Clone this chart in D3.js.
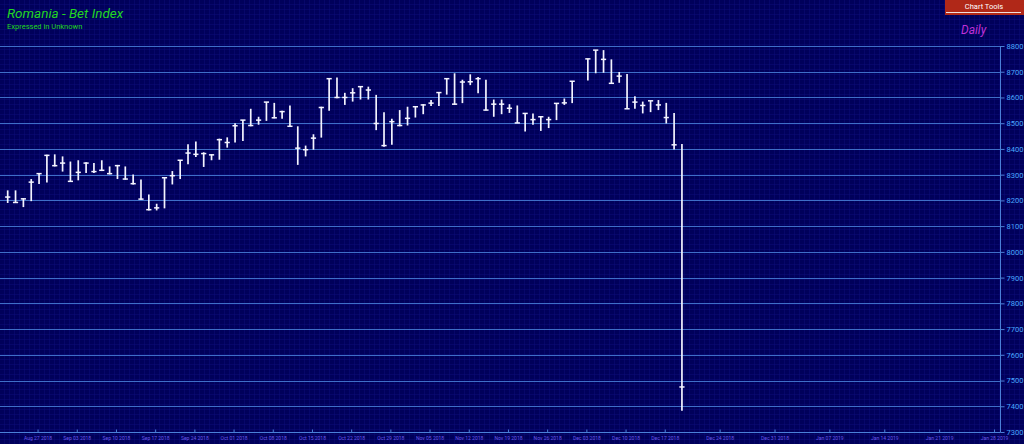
<!DOCTYPE html>
<html><head><meta charset="utf-8">
<script src="https://cdn.jsdelivr.net/npm/d3@7"></script>
<style>html,body{margin:0;padding:0;background:#00005a;overflow:hidden}</style>
</head><body>
<svg id="c" width="1024" height="444"></svg>
<script>
const dates = ["2018-08-21","2018-08-22","2018-08-23","2018-08-24","2018-08-27","2018-08-28","2018-08-29","2018-08-30","2018-08-31",
"2018-09-03","2018-09-04","2018-09-05","2018-09-06","2018-09-07","2018-09-10","2018-09-11","2018-09-12","2018-09-13","2018-09-14",
"2018-09-17","2018-09-18","2018-09-19","2018-09-20","2018-09-21","2018-09-24","2018-09-25","2018-09-26","2018-09-27","2018-09-28",
"2018-10-01","2018-10-02","2018-10-03","2018-10-04","2018-10-05","2018-10-08","2018-10-09","2018-10-10","2018-10-11","2018-10-12",
"2018-10-15","2018-10-16","2018-10-17","2018-10-18","2018-10-19","2018-10-22","2018-10-23","2018-10-24","2018-10-25","2018-10-26",
"2018-10-29","2018-10-30","2018-10-31","2018-11-01","2018-11-02","2018-11-05","2018-11-06","2018-11-07","2018-11-08","2018-11-09",
"2018-11-12","2018-11-13","2018-11-14","2018-11-15","2018-11-16","2018-11-19","2018-11-20","2018-11-21","2018-11-22","2018-11-23",
"2018-11-26","2018-11-27","2018-11-28","2018-11-29","2018-12-03","2018-12-04","2018-12-05","2018-12-06","2018-12-07",
"2018-12-10","2018-12-11","2018-12-12","2018-12-13","2018-12-14","2018-12-17","2018-12-18","2018-12-19"];
const high = [8239,8239,8208,8283,8306,8377,8379,8371,8351,8356,8348,8345,8356,8332,8338,8332,8301,8281,8223,8187,8288,8314,8356,8418,8429,8387,8379,8440,8445,8500,
8512,8556,8525,8582,8579,8548,8569,8488,8413,8457,8564,8673,8678,8618,8636,8644,8642,8610,8543,8517,8551,8564,8566,8574,8590,8621,8675,8694,8669,8690,
8680,8669,8592,8592,8574,8569,8538,8538,8525,8525,8577,8596,8663,8750,8784,8784,8748,8699,8691,8605,8584,8587,8590,8579,8540,8419];
const low = [8190,8190,8174,8197,8264,8270,8332,8312,8273,8278,8306,8306,8314,8301,8283,8281,8262,8203,8161,8161,8169,8262,8283,8340,8369,8330,8356,8358,8405,8425,
8431,8488,8494,8509,8519,8517,8488,8338,8371,8397,8444,8548,8597,8571,8584,8592,8592,8473,8408,8416,8488,8491,8522,8535,8567,8567,8611,8571,8578,8648,
8616,8550,8525,8535,8540,8501,8468,8494,8470,8481,8512,8571,8578,8666,8694,8696,8655,8657,8556,8556,8538,8543,8551,8499,8398,7383];
const close = [8213,8192,8206,8271,8304,8375,8335,8345,8274,8309,8345,8312,8317,8304,8335,8283,8265,8205,8164,8171,8288,8296,8356,8384,8379,8382,8377,8436,8425,8490,
8512,8491,8512,8582,8521,8545,8488,8403,8397,8442,8561,8673,8600,8600,8618,8642,8629,8499,8413,8506,8491,8519,8564,8571,8578,8619,8673,8574,8660,8661,
8673,8551,8574,8574,8558,8501,8538,8514,8525,8514,8577,8579,8663,8750,8784,8748,8655,8683,8556,8582,8569,8587,8571,8522,8416,7475];
const tickDates = ["2018-08-27","2018-09-03","2018-09-10","2018-09-17","2018-09-24","2018-10-01","2018-10-08","2018-10-15","2018-10-22","2018-10-29",
"2018-11-05","2018-11-12","2018-11-19","2018-11-26","2018-12-03","2018-12-10","2018-12-17","2018-12-24","2018-12-31","2019-01-07","2019-01-14","2019-01-21","2019-01-28"];
const yTicks = [7300,7400,7500,7600,7700,7800,7900,8000,8100,8200,8300,8400,8500,8600,8700,8800];

const W = 1024, H = 444;
const svg = d3.select("#c");
const parse = d3.utcParse("%Y-%m-%d");
const fmt = d3.utcFormat("%b %d %Y");
const d0 = parse(dates[0]), dLast = parse(dates[dates.length-1]);
function weekdaySlot(d){
  return d3.utcDay.count(d0, d) - d3.utcSaturday.count(d0, d) - d3.utcSunday.count(d0, d);
}
function slotOf(s){
  const d = parse(s);
  if (d <= dLast) return weekdaySlot(d);
  return weekdaySlot(dLast) + d3.utcDay.count(dLast, d);
}
const x = d3.scaleLinear().domain([0, 100]).range([7.7, 7.7 + 100*7.84]);
const y = d3.scaleLinear().domain([7300, 8800]).range([432, 46]);

// background fine grid
const defs = svg.append("defs");
const pat = defs.append("pattern").attr("id","fg").attr("width",5).attr("height",5).attr("patternUnits","userSpaceOnUse");
pat.append("rect").attr("width",5).attr("height",5).attr("fill","#00005a");
pat.append("path").attr("d","M5 0V5M0 5H5").attr("stroke","#0c0c78").attr("stroke-width",1).attr("fill","none");
svg.append("rect").attr("width",W).attr("height",H).attr("fill","url(#fg)");

// horizontal gridlines
svg.append("g").selectAll("line").data(yTicks.filter(v=>v>7300)).join("line")
  .attr("x1",0).attr("x2",1000).attr("y1",d=>Math.round(y(d))+0.5).attr("y2",d=>Math.round(y(d))+0.5)
  .attr("stroke","#3e6ec8").attr("stroke-width",1.2);

// y axis on right
const yAxis = d3.axisRight(y).tickValues(yTicks).tickSize(4).tickPadding(2).tickFormat(d3.format("d"));
const gy = svg.append("g").attr("transform","translate(1000.5,0)").call(yAxis);
gy.select(".domain").attr("stroke","#4a80d8").attr("d","M0,46V432.5");
gy.selectAll(".tick line").attr("stroke","#4a80d8");
gy.selectAll(".tick text").attr("fill","#4aa8ff").attr("font-family","Roboto, sans-serif").attr("font-size",7.5);

// x axis
const xAxis = d3.axisBottom(x).tickValues(tickDates.map(slotOf)).tickSize(3).tickPadding(1)
  .tickFormat((d,i)=>fmt(parse(tickDates[i])));
const gx = svg.append("g").attr("transform","translate(-1.5,432.5)").call(xAxis);
gx.select(".domain").attr("stroke","#4a80d8").attr("d","M1.5,0H1002");
gx.selectAll(".tick line").attr("stroke","#4a80d8").attr("y2",-3);
gx.selectAll(".tick text").attr("fill","#6a58e8").attr("font-family","Roboto, sans-serif").attr("font-size",5);

// HLC bars
const bars = svg.append("g");
dates.forEach((ds,i)=>{
  const cx = x(slotOf(ds));
  const col = "#f4f4ff";
  bars.append("line").attr("x1",cx).attr("x2",cx).attr("y1",y(high[i])).attr("y2",y(low[i]))
    .attr("stroke",col).attr("stroke-width",1.7);
  bars.append("line").attr("x1",cx-2.6).attr("x2",cx+2.6).attr("y1",y(close[i])).attr("y2",y(close[i]))
    .attr("stroke",col).attr("stroke-width",1.5);
});

// titles
svg.append("text").attr("x",7).attr("y",18).attr("fill","#22d622").attr("font-family","Roboto, sans-serif")
  .attr("font-style","italic").attr("font-size",13.5).text("Romania - Bet Index");
svg.append("text").attr("x",7).attr("y",29).attr("fill","#22d622").attr("font-family","Roboto, sans-serif")
  .attr("font-size",7.5).text("Expressed in Unknown");
svg.append("text").attr("x",961).attr("y",34).attr("fill","#c030d8").attr("font-family","Roboto, sans-serif")
  .attr("font-style","italic").attr("font-size",12).text("Daily");

// Chart Tools button
svg.append("rect").attr("x",945).attr("y",0).attr("width",79).attr("height",15).attr("fill","#b02818");
svg.append("line").attr("x1",946).attr("x2",1021).attr("y1",12.5).attr("y2",12.5).attr("stroke","#f0e0e0").attr("stroke-width",1.2);
svg.append("text").attr("x",984).attr("y",8.5).attr("text-anchor","middle").attr("fill","#ffffff")
  .attr("font-family","Roboto, sans-serif").attr("font-size",7.5).text("Chart Tools");
</script>
</body></html>
